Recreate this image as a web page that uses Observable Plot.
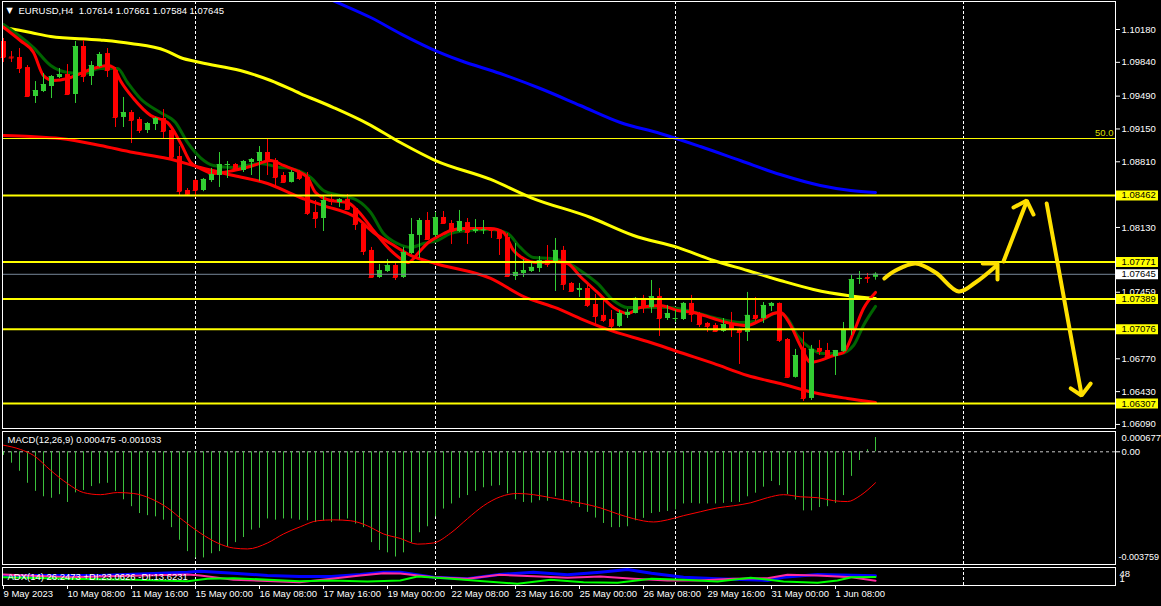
<!DOCTYPE html>
<html><head><meta charset="utf-8">
<script src="https://cdn.jsdelivr.net/npm/d3@7"></script>
<script src="https://cdn.jsdelivr.net/npm/@observablehq/plot@0.6"></script>
<style>
html,body{margin:0;padding:0;background:#000;}
#chart{position:relative;width:1161px;height:606px;background:#000;overflow:hidden;}
#chart svg{position:absolute;left:0;overflow:visible;}
</style></head><body><div id="chart"></div>
<script>
// ---------- DATA ----------
const openP=[1.10056,1.09895,1.09890,1.09786,1.09486,1.09538,1.09590,1.09683,1.09714,1.09507,
1.10004,1.09693,1.09797,1.09931,1.09755,1.09269,1.09320,1.09248,1.09134,1.09196,
1.09258,1.09134,1.08865,1.08513,1.08616,1.08513,1.08616,1.08668,1.08772,1.08782,
1.08720,1.08803,1.08813,1.08906,1.08823,1.08668,1.08596,1.08699,1.08647,1.08285,
1.08223,1.08420,1.08388,1.08420,1.08326,1.08161,1.07892,1.07612,1.07674,1.07736,
1.07612,1.07860,1.08047,1.08202,1.08047,1.08233,1.08171,1.08088,1.08181,1.08088,
1.08099,1.08114,1.08099,1.08026,1.07622,1.07653,1.07674,1.07705,1.07788,1.07757,
1.07892,1.07550,1.07477,1.07498,1.07332,1.07219,1.07177,1.07105,1.07219,1.07239,
1.07395,1.07301,1.07415,1.07187,1.07182,1.07177,1.07343,1.07229,1.07136,1.07115,
1.07053,1.07136,1.07074,1.07043,1.07219,1.07187,1.07312,1.07343,1.06970,1.06577,
1.06877,1.06359,1.06877,1.06856,1.06794,1.06846,1.07074,1.07591,1.07612,1.07614];
const highP=[1.10087,1.09952,1.09983,1.09807,1.09641,1.09724,1.09703,1.09776,1.09817,1.10056,
1.10066,1.09848,1.09942,1.09983,1.09786,1.09476,1.09341,1.09269,1.09217,1.09269,
1.09351,1.09155,1.08968,1.08533,1.08627,1.08637,1.08741,1.08906,1.08813,1.08792,
1.08823,1.08844,1.08968,1.09051,1.08844,1.08699,1.08720,1.08720,1.08699,1.08409,
1.08451,1.08471,1.08430,1.08471,1.08337,1.08171,1.07923,1.07747,1.07798,1.07757,
1.07923,1.08223,1.08223,1.08285,1.08285,1.08295,1.08202,1.08306,1.08223,1.08212,
1.08202,1.08119,1.08104,1.08068,1.07964,1.07798,1.07767,1.07829,1.07943,1.08016,
1.07933,1.07560,1.07550,1.07529,1.07436,1.07395,1.07270,1.07270,1.07281,1.07405,
1.07426,1.07581,1.07498,1.07322,1.07270,1.07353,1.07426,1.07250,1.07146,1.07136,
1.07187,1.07250,1.07084,1.07457,1.07405,1.07353,1.07353,1.07348,1.06980,1.06867,
1.07043,1.06908,1.06960,1.06929,1.06856,1.07146,1.07633,1.07674,1.07653,1.07661];
const lowP=[1.09838,1.09838,1.09724,1.09480,1.09414,1.09527,1.09465,1.09672,1.09496,1.09414,
1.09631,1.09600,1.09786,1.09683,1.09165,1.09165,1.08999,1.09103,1.09103,1.09134,
1.09041,1.08834,1.08461,1.08455,1.08440,1.08500,1.08596,1.08544,1.08637,1.08730,
1.08699,1.08668,1.08606,1.08668,1.08544,1.08585,1.08590,1.08616,1.08254,1.08119,
1.08088,1.08357,1.08337,1.08306,1.08099,1.07840,1.07602,1.07602,1.07664,1.07581,
1.07602,1.07850,1.07809,1.07995,1.08026,1.08161,1.07954,1.08078,1.07954,1.08068,
1.08057,1.08016,1.07840,1.07612,1.07581,1.07612,1.07664,1.07664,1.07716,1.07467,
1.07477,1.07462,1.07405,1.07301,1.07125,1.07146,1.07063,1.07094,1.07187,1.07235,
1.07239,1.07239,1.07001,1.07167,1.07146,1.07167,1.07146,1.07094,1.07043,1.07043,
1.07043,1.06991,1.06711,1.06949,1.07146,1.07136,1.07260,1.06939,1.06566,1.06570,
1.06328,1.06338,1.06804,1.06784,1.06597,1.06835,1.07011,1.07540,1.07550,1.07584];
const closeP=[1.09890,1.09885,1.09776,1.09486,1.09548,1.09610,1.09693,1.09714,1.09507,1.10004,
1.09693,1.09807,1.09921,1.09755,1.09269,1.09320,1.09238,1.09134,1.09206,1.09258,
1.09124,1.08854,1.08502,1.08466,1.08513,1.08627,1.08678,1.08782,1.08782,1.08741,
1.08813,1.08834,1.08906,1.08813,1.08647,1.08596,1.08699,1.08637,1.08275,1.08223,
1.08409,1.08399,1.08420,1.08316,1.08161,1.07881,1.07612,1.07684,1.07736,1.07612,
1.07871,1.08057,1.08202,1.08005,1.08233,1.08171,1.08088,1.08192,1.08078,1.08109,
1.08104,1.08099,1.08016,1.07622,1.07664,1.07684,1.07716,1.07788,1.07747,1.07892,
1.07540,1.07467,1.07498,1.07322,1.07208,1.07167,1.07105,1.07239,1.07250,1.07395,
1.07301,1.07415,1.07187,1.07239,1.07187,1.07343,1.07229,1.07125,1.07105,1.07053,
1.07125,1.07074,1.07043,1.07219,1.07187,1.07322,1.07343,1.06960,1.06577,1.06804,
1.06359,1.06867,1.06846,1.06794,1.06856,1.07074,1.07591,1.07602,1.07602,1.07645];

// moving averages (bar index, price)
const yellowIdx=[0,3.4,5.9,12.1,15.9,20.25,22.1,24.6,29.6,33.4,37.1,41.25,45.5,49.6,54,60.9,65.9,73.4,78.75,84.25,88.75,93,97.1,101.25,105.5,109];
const yellowVal=[1.10200,1.10149,1.10107,1.10071,1.10035,1.09962,1.09890,1.09838,1.09755,1.09652,1.09517,1.09372,1.09206,1.09010,1.08823,1.08627,1.08440,1.08233,1.08047,1.07923,1.07788,1.07684,1.07581,1.07488,1.07426,1.07395];
const blueIdx=[40.9,41.75,45.9,49.6,53.4,57.1,62.1,67.1,72.1,77.1,82.1,87.1,92.1,97.1,102.1,105.9,109];
const blueVal=[1.10490,1.10459,1.10304,1.10138,1.09983,1.09859,1.09724,1.09569,1.09393,1.09217,1.09103,1.08968,1.08823,1.08678,1.08565,1.08513,1.08492];
const slowIdx=[0,3.4,7.1,12.1,16.25,20.5,24.6,28.75,33,37.1,40,44.25,46.25,48.4,50.9,54,60.9,65,69.25,72.1,76.25,80.5,84.6,88.75,93,97.1,101.25,105.5,109];
const slowVal=[1.09082,1.09072,1.09051,1.08979,1.08906,1.08844,1.08751,1.08668,1.08585,1.08440,1.08357,1.08223,1.08078,1.07964,1.07840,1.07757,1.07602,1.07415,1.07291,1.07187,1.07053,1.06949,1.06835,1.06722,1.06597,1.06514,1.06421,1.06359,1.06318];
const fastIdx=[0,2.1,3.75,5,6.25,8,9.6,11.25,13,13.75,14.6,16.25,18.4,20.5,22.1,23.4,24.6,26.25,28.75,31.25,33.4,35,37.1,38,39,40.9,43,44.25,46.25,48.4,49.6,50.6,51.9,53.1,54.6,55.9,57.5,60.9,62.5,63.75,65,66.75,68.75,70.5,72.1,74.25,76.25,78,79.6,82.1,84.25,86.25,88.75,90.9,93,94.6,96.25,97.1,98.4,99.6,100.9,102.1,103.75,105,106.25,107.5,109];
const fastVal=[1.10204,1.10066,1.09942,1.09703,1.09652,1.09672,1.09724,1.09776,1.09807,1.09786,1.09652,1.09465,1.09289,1.09217,1.09010,1.08803,1.08741,1.08689,1.08720,1.08772,1.08823,1.08772,1.08699,1.08647,1.08492,1.08409,1.08388,1.08306,1.08099,1.07892,1.07809,1.07767,1.07871,1.07974,1.08047,1.08099,1.08119,1.08119,1.08078,1.07892,1.07809,1.07767,1.07778,1.07757,1.07622,1.07457,1.07301,1.07239,1.07301,1.07322,1.07270,1.07250,1.07187,1.07136,1.07115,1.07167,1.07239,1.07250,1.07115,1.06908,1.06732,1.06753,1.06804,1.06835,1.07043,1.07291,1.07457];
const greenIdx=[0,3.75,5.9,8,10,12.1,14.25,15.5,17.1,19.6,21.5,23,24.6,26.25,28.75,32.1,34.6,35.9,38.4,40,42.1,44.25,45.9,47.5,49.25,50.9,52.5,54.25,55.9,58,60.9,63,64.6,66.25,68.4,70.5,72.1,74.25,76.25,78,80.5,83,85.5,88.75,92.1,94.6,96.75,98,99.25,100.9,102.5,104.6,106.25,107.5,109];
const greenVal=[1.10232,1.09993,1.09807,1.09735,1.09724,1.09776,1.09776,1.09631,1.09465,1.09320,1.09217,1.09010,1.08854,1.08772,1.08751,1.08792,1.08751,1.08741,1.08647,1.08513,1.08461,1.08409,1.08285,1.08068,1.07964,1.07923,1.07964,1.07995,1.08068,1.08099,1.08109,1.08068,1.07923,1.07819,1.07809,1.07767,1.07684,1.07550,1.07374,1.07301,1.07301,1.07301,1.07270,1.07198,1.07146,1.07167,1.07250,1.07187,1.07011,1.06877,1.06825,1.06825,1.06908,1.07115,1.07312];

// horizontal levels
const levels=[1.08462,1.07771,1.07389,1.07076,1.06307];
const fibLevel=1.09051;
const bidPrice=1.07645;
const priceTicks=[1.10180,1.09840,1.09490,1.09150,1.08810,1.08130,1.07459,1.06770,1.06430,1.06090];

// hand-drawn forecast arrows (bar index, price)
const waveIdx=[110.1,111.5,114,116.5,119.4,121.5,124];
const waveVal=[1.07602,1.07684,1.07757,1.07664,1.07467,1.07560,1.07726];
const head1Idx=[122.4,124.25,124.25], head1Val=[1.07757,1.07757,1.07591];
const upIdx=[125,127.9], upVal=[1.07778,1.08399];
const head2Idx=[126.25,127.9,128.75], head2Val=[1.08337,1.08409,1.08264];
const downIdx=[130.4,134.75], downVal=[1.08378,1.06401];
const head3Idx=[133.4,134.75,135.9], head3Val=[1.06463,1.06390,1.06514];

// MACD
const macdHist=[-0.00012,-0.00038,-0.00065,-0.00105,-0.00132,-0.00150,-0.00155,-0.00143,-0.00169,-0.00137,
-0.00129,-0.00116,-0.00107,-0.00105,-0.00132,-0.00160,-0.00183,-0.00206,-0.00213,-0.00217,
-0.00228,-0.00253,-0.00295,-0.00333,-0.00354,-0.00354,-0.00340,-0.00333,-0.00318,-0.00303,
-0.00286,-0.00261,-0.00255,-0.00224,-0.00228,-0.00224,-0.00224,-0.00228,-0.00230,-0.00236,
-0.00230,-0.00236,-0.00230,-0.00224,-0.00241,-0.00253,-0.00303,-0.00329,-0.00337,-0.00351,
-0.00337,-0.00303,-0.00270,-0.00250,-0.00217,-0.00191,-0.00174,-0.00155,-0.00146,-0.00132,
-0.00120,-0.00115,-0.00113,-0.00140,-0.00160,-0.00169,-0.00171,-0.00163,-0.00165,-0.00150,
-0.00163,-0.00174,-0.00186,-0.00202,-0.00221,-0.00239,-0.00253,-0.00253,-0.00250,-0.00230,
-0.00222,-0.00206,-0.00202,-0.00199,-0.00194,-0.00174,-0.00172,-0.00174,-0.00174,-0.00174,
-0.00172,-0.00169,-0.00169,-0.00150,-0.00138,-0.00118,-0.00099,-0.00113,-0.00143,-0.00161,
-0.00197,-0.00197,-0.00186,-0.00183,-0.00172,-0.00146,-0.00082,-0.00029,0.00007,0.000475];
const sigIdx=[0,2.1,3.75,5.9,8,10,12.1,14.25,16.25,18.4,20.5,22.5,24.6,26.75,28.75,30.5,33,35,37.1,39.25,41.25,43.4,45.5,47.5,49.6,51.75,53.75,55.9,58,60,62.1,64.25,66.25,68.4,70.5,72.5,74.6,76.75,78.75,81.25,83,85,87.1,89.25,91.25,93.4,95.5,97.5,99.6,101.75,103.75,105.5,107.1,109];
const sigVal=[0.00022,0.00008,-0.00012,-0.00062,-0.00106,-0.00136,-0.00143,-0.00136,-0.00139,-0.00156,-0.00187,-0.00230,-0.00271,-0.00304,-0.00321,-0.00324,-0.00304,-0.00274,-0.00250,-0.00230,-0.00227,-0.00230,-0.00247,-0.00274,-0.00289,-0.00308,-0.00304,-0.00271,-0.00223,-0.00180,-0.00150,-0.00139,-0.00143,-0.00153,-0.00163,-0.00173,-0.00187,-0.00207,-0.00223,-0.00234,-0.00227,-0.00213,-0.00200,-0.00187,-0.00180,-0.00170,-0.00153,-0.00143,-0.00150,-0.00153,-0.00163,-0.00166,-0.00146,-0.001033];
const macdMax=0.000677, macdMin=-0.003759;

// ADX
const adxIdx=[0,12,23,24.6,28.75,33,37,41,44.6,47.5,49.6,53.75,58,62,66.25,70.5,74.6,78,81,85,89.25,95.5,97.5,101.75,109];
const adxVal=[27.1,27.1,35.7,38.3,33.1,27.1,24.5,24.5,29.7,35.7,35.7,22.7,18.5,29.7,35.7,28.9,35.7,42.8,33.1,22.7,18.5,14.1,22.7,29.7,26.25];
const plusIdx=[0,8,16.25,23,25.5,28.75,37,41,45.5,49.6,51.75,56,60,64.25,68.4,72.5,76.75,81,85,89.25,93.4,97.5,101.75,104.25,106,109];
const plusVal=[22.7,18.5,15.9,12.2,18.5,20.1,12.2,14.1,11.4,14.1,24.5,18.5,12.2,5.4,15.9,9.6,8.0,18.5,15.9,11.4,21.1,11.4,8.0,14.1,22.7,23.06];
const minusIdx=[0,8,23,24.6,28.75,37,41,44.6,47.5,49.6,53.75,58,62,66.25,70.5,74.6,78.75,83,87,91.25,95.5,98,101.75,106,109];
const minusVal=[29.7,22.7,29.7,27.1,15.9,9.6,18.5,27.1,33.1,32.3,22.7,18.5,28.9,25.3,21.1,24.5,18.5,14.1,14.1,18.5,20.1,28.9,27.1,22.7,13.62];

// time axis
const separators=[24,54,84,120];
const xLabelIdx=[0,8,16,24,32,40,48,56,64,72,80,88,96,104];
const xLabelText=["9 May 2023","10 May 08:00","11 May 16:00","15 May 00:00","16 May 08:00","17 May 16:00","19 May 00:00","22 May 08:00","23 May 16:00","25 May 00:00","26 May 08:00","29 May 16:00","31 May 00:00","1 Jun 08:00"];

const titleText="EURUSD,H4\u00a0 1.07614 1.07661 1.07584 1.07645";
const macdLegend="MACD(12,26,9) 0.000475 -0.001033";
const adxLegend="ADX(14) 26.2473 +DI:23.0626 -DI:13.6231";

// ---------- DRAW ----------
const FONT="'Liberation Sans', Arial, sans-serif";
const GREEN="#32cd32", RED="#ff0000", YEL="#ffff00", ARROW="#ffe000";
const pts=(idx,val)=>idx.map((i,k)=>({i,v:val[k]}));
const bars=openP.map((o,i)=>({i,o,h:highP[i],l:lowP[i],c:closeP[i],col:closeP[i]>=o?GREEN:RED}));
const hist=macdHist.map((v,i)=>({i,v}));
const common={width:1161,marginLeft:2,marginRight:46,
  x:{domain:[-0.125,139],axis:null},
  color:{type:"identity"},
  style:{background:"transparent",color:"#fff",fontFamily:FONT,fontSize:"9.5px",overflow:"visible"}};
const sepMark=()=>Plot.ruleX(separators,{stroke:"#fff",strokeDasharray:"3,2"});
const ln=(idx,val,o)=>Plot.line(pts(idx,val),{x:"i",y:"v",...o});
const FS=9.5;

const main=Plot.plot({...common,height:429,marginTop:1,marginBottom:1,
  y:{domain:[1.06048,1.10470],axis:null},
  marks:[
    sepMark(),
    ln(blueIdx,blueVal,{stroke:"#0000ff",strokeWidth:3,curve:"monotone-x",clip:true}),
    ln(yellowIdx,yellowVal,{stroke:YEL,strokeWidth:3,curve:"monotone-x"}),
    ln(slowIdx,slowVal,{stroke:RED,strokeWidth:3,curve:"monotone-x"}),
    ln(greenIdx,greenVal,{stroke:"#006400",strokeWidth:3,curve:"monotone-x"}),
    ln(fastIdx,fastVal,{stroke:RED,strokeWidth:3,curve:"monotone-x"}),
    Plot.ruleX(bars,{x:"i",y1:"l",y2:"h",stroke:"col"}),
    Plot.ruleY(bars,{y:"c",x1:d=>d.i-0.3,x2:d=>d.i+0.3,stroke:"col"}),
    Plot.ruleX(bars,{x:"i",y1:"o",y2:"c",stroke:"col",strokeWidth:5}),
    Plot.ruleY([fibLevel],{stroke:YEL,strokeWidth:1}),
    Plot.ruleY(levels,{stroke:YEL,strokeWidth:2}),
    Plot.ruleY([bidPrice],{stroke:"#778899"}),
    ln(waveIdx,waveVal,{stroke:ARROW,strokeWidth:4,curve:"catmull-rom"}),
    ln(head1Idx,head1Val,{stroke:ARROW,strokeWidth:4,strokeLinejoin:"miter"}),
    ln(upIdx,upVal,{stroke:ARROW,strokeWidth:4}),
    ln(head2Idx,head2Val,{stroke:ARROW,strokeWidth:4,strokeLinejoin:"miter"}),
    ln(downIdx,downVal,{stroke:ARROW,strokeWidth:4}),
    ln(head3Idx,head3Val,{stroke:ARROW,strokeWidth:4,strokeLinejoin:"miter"}),
    Plot.axisY(priceTicks,{anchor:"right",label:null,tickSize:4,tickPadding:2,fontSize:FS,tickFormat:d=>d.toFixed(5)}),
    Plot.ruleY(levels,{x1:139.125,x2:144.375,stroke:YEL,strokeWidth:10}),
    Plot.text(levels,{y:d=>d,frameAnchor:"right",dx:6,textAnchor:"start",fontSize:FS,fill:"#000",text:d=>d.toFixed(5)}),
    Plot.ruleY([bidPrice],{x1:139.125,x2:144.375,stroke:"#fff",strokeWidth:10}),
    Plot.text([bidPrice],{y:d=>d,frameAnchor:"right",dx:6,textAnchor:"start",fontSize:FS,fill:"#000",text:d=>d.toFixed(5)}),
    Plot.text([fibLevel],{y:d=>d,frameAnchor:"right",dx:-2,dy:-6,textAnchor:"end",fontSize:FS,fill:"#dede00",text:()=>"50.0"}),
    Plot.frame({stroke:"#fff"}),
    Plot.text(["\u25BC"],{frameAnchor:"top-left",dx:7,dy:9,fontSize:8,fontFamily:"DejaVu Sans",textAnchor:"middle",lineAnchor:"middle",fill:"#fff"}),
    Plot.text([titleText],{frameAnchor:"top-left",dx:16,dy:9,textAnchor:"start",lineAnchor:"middle",fontSize:FS,fill:"#fff"})
  ]});

const macd=Plot.plot({...common,height:135,marginTop:1,marginBottom:1,
  y:{domain:[macdMin,macdMax],axis:null},
  marks:[
    sepMark(),
    Plot.ruleY([0],{stroke:"#c8c8c8",strokeDasharray:"3,3"}),
    Plot.ruleX(hist,{x:"i",y1:0,y2:"v",stroke:"#3cc03c"}),
    ln(sigIdx,sigVal,{stroke:RED,strokeWidth:1,curve:"monotone-x"}),
    Plot.axisY([0],{anchor:"right",label:null,tickSize:4,tickPadding:2,fontSize:FS,tickFormat:()=>"0.00"}),
    Plot.text([macdMax],{frameAnchor:"top-right",dx:6,dy:6,textAnchor:"start",lineAnchor:"middle",fontSize:FS,fill:"#fff",text:d=>d.toFixed(6)}),
    Plot.text([macdMin],{frameAnchor:"bottom-right",dx:3,dy:-7,textAnchor:"start",lineAnchor:"middle",fontSize:9,fill:"#fff",text:d=>d.toFixed(6)}),
    Plot.frame({stroke:"#fff"}),
    Plot.text([macdLegend],{frameAnchor:"top-left",dx:5,dy:8,textAnchor:"start",lineAnchor:"middle",fontSize:FS,fill:"#fff"})
  ]});

const adx=Plot.plot({...common,height:40,marginTop:1,marginBottom:21,
  y:{domain:[1,48],axis:null},
  marks:[
    sepMark(),
    ln(adxIdx,adxVal,{stroke:"#0000ff",strokeWidth:3}),
    ln(minusIdx,minusVal,{stroke:"#ff2aa0",strokeWidth:2}),
    ln(plusIdx,plusVal,{stroke:"#00ff00",strokeWidth:2}),
    Plot.axisX(xLabelIdx,{anchor:"bottom",label:null,tickSize:4,tickPadding:1,fontSize:FS,textAnchor:"start",tickFormat:d=>xLabelText[xLabelIdx.indexOf(d)]}),
    Plot.text(["48"],{frameAnchor:"top-right",dx:4,dy:6,textAnchor:"start",lineAnchor:"middle",fontSize:FS,fill:"#fff"}),
    Plot.text(["1"],{frameAnchor:"top-right",dx:4,dy:11,textAnchor:"start",lineAnchor:"middle",fontSize:FS,fill:"#fff"}),
    Plot.frame({stroke:"#fff"}),
    Plot.text([adxLegend],{frameAnchor:"top-left",dx:5,dy:9,textAnchor:"start",lineAnchor:"middle",fontSize:FS,fill:"#fff"})
  ]});

const host=document.getElementById("chart");
[[main,0],[macd,430],[adx,566]].forEach(([el,top])=>{el.style.top=top+"px";host.appendChild(el);});
</script></body></html>
